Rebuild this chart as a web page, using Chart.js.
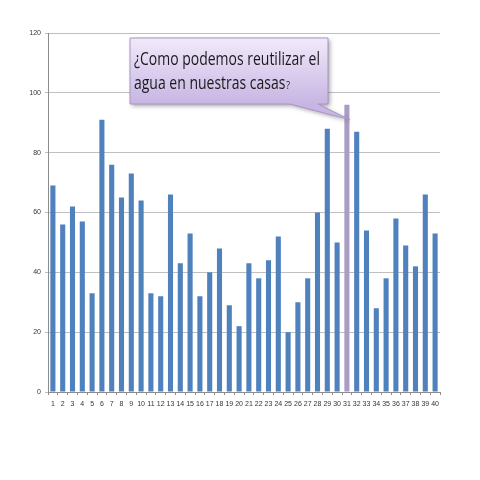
<!DOCTYPE html>
<html lang="es">
  <head>
    <meta charset="UTF-8" />
    <title>Reutilizar el agua</title>
    <script src="https://cdn.jsdelivr.net/npm/chart.js"></script>
    <style>
      body {
        margin: 0;
        background: #ffffff;
      }
      .chart-box {
        position: absolute;
        left: 0;
        top: 0;
        width: 480px;
        height: 480px;
      }
    </style>
  </head>
  <body>
    <div class="chart-box">
      <canvas id="barChart"></canvas>
    </div>

    <script>
      // categories 1..40
      var categories = [
        "1", "2", "3", "4", "5", "6", "7", "8", "9", "10",
        "11", "12", "13", "14", "15", "16", "17", "18", "19", "20",
        "21", "22", "23", "24", "25", "26", "27", "28", "29", "30",
        "31", "32", "33", "34", "35", "36", "37", "38", "39", "40",
      ];
      var values = [
        69, 56, 62, 57, 33, 91, 76, 65, 73, 64,
        33, 32, 66, 43, 53, 32, 40, 48, 29, 22,
        43, 38, 44, 52, 20, 30, 38, 60, 88, 50,
        96, 87, 54, 28, 38, 58, 49, 42, 66, 53,
      ];
      var yTicks = [0, 20, 40, 60, 80, 100, 120];
      var highlighted = "31";
      var calloutLines = ["¿Como podemos reutilizar el", "agua en nuestras casas"];

      var FONT = "'Open Sans', 'Liberation Sans', sans-serif";

      // draw text squeezed horizontally (Calibri-like narrow look)
      function narrowText(ctx, text, x, y, squeeze) {
        ctx.save();
        ctx.translate(x, y);
        ctx.scale(squeeze, 1);
        ctx.fillText(text, 0, 0);
        ctx.restore();
        return ctx.measureText(text).width * squeeze;
      }

      // speech bubble pointing at the highlighted bar
      var calloutPlugin = {
        id: "callout",
        afterDatasetsDraw: function (chart) {
          var ctx = chart.ctx;
          var meta = chart.getDatasetMeta(0);
          var bar = meta.data[categories.indexOf(highlighted)];
          var tipX = bar.x + 3;
          var tipY = bar.y + 15;

          var x0 = 130, y0 = 38, x1 = 328, y1 = 104;

          ctx.save();
          ctx.shadowColor = "rgba(0,0,0,0.35)";
          ctx.shadowBlur = 4;
          ctx.shadowOffsetX = 2;
          ctx.shadowOffsetY = 2;
          var grad = ctx.createLinearGradient(0, y0, 0, y1);
          grad.addColorStop(0, "#f1eafa");
          grad.addColorStop(1, "#c7b5e3");
          ctx.fillStyle = grad;
          ctx.beginPath();
          ctx.moveTo(x0, y0);
          ctx.lineTo(x1, y0);
          ctx.lineTo(x1, y1);
          ctx.lineTo(318, y1);
          ctx.lineTo(tipX, tipY);
          ctx.lineTo(290, y1);
          ctx.lineTo(x0, y1);
          ctx.closePath();
          ctx.fill();
          ctx.shadowColor = "transparent";
          ctx.strokeStyle = "#a795c4";
          ctx.lineWidth = 1;
          ctx.stroke();

          ctx.fillStyle = "#1a1a1a";
          ctx.textBaseline = "alphabetic";
          ctx.font = "18px " + FONT;
          var squeeze = 186 / ctx.measureText(calloutLines[0]).width;
          narrowText(ctx, calloutLines[0], 134, 65, squeeze);
          var w = narrowText(ctx, calloutLines[1], 134, 89, squeeze);
          ctx.font = "11px " + FONT;
          narrowText(ctx, "?", 134 + w + 1, 89, squeeze);
          ctx.restore();
        },
      };

      function createBarChart(ctx) {
        new Chart(ctx, {
          type: "bar",
          data: {
            labels: categories,
            datasets: [
              {
                data: values,
                backgroundColor: function (c) {
                  return categories[c.dataIndex] === highlighted ? "#ab9cc4" : "#4f81bd";
                },
                barPercentage: 0.52,
                categoryPercentage: 1.0,
              },
            ],
          },
          options: {
            responsive: true,
            maintainAspectRatio: false,
            animation: false,
            layout: {
              padding: { left: 0, top: 33, right: 40, bottom: 64 },
            },
            plugins: {
              legend: { display: false },
              tooltip: { enabled: false },
            },
            scales: {
              x: {
                offset: true,
                grid: {
                  display: true,
                  drawOnChartArea: false,
                  offset: true,
                  tickLength: 3,
                  color: "#8c8c8c",
                },
                border: { color: "#8c8c8c" },
                ticks: {
                  color: "#333333",
                  font: { family: "'Liberation Sans', sans-serif", size: 7 },
                  maxRotation: 0,
                  autoSkip: false,
                  padding: 5,
                },
                afterFit: function (s) {
                  s.height = 24;
                },
              },
              y: {
                min: 0,
                max: 120,
                afterBuildTicks: function (s) {
                  s.ticks = yTicks.map(function (v) {
                    return { value: v };
                  });
                },
                grid: {
                  color: "#bfbfbf",
                  tickLength: 3,
                },
                border: { color: "#8c8c8c" },
                ticks: {
                  color: "#333333",
                  font: { family: "'Liberation Sans', sans-serif", size: 7 },
                  padding: 4,
                },
                afterFit: function (s) {
                  s.width = 48;
                },
              },
            },
          },
          plugins: [calloutPlugin],
        });
      }

      document.addEventListener("DOMContentLoaded", function () {
        createBarChart(document.getElementById("barChart").getContext("2d"));
      });
    </script>
  </body>
</html>
